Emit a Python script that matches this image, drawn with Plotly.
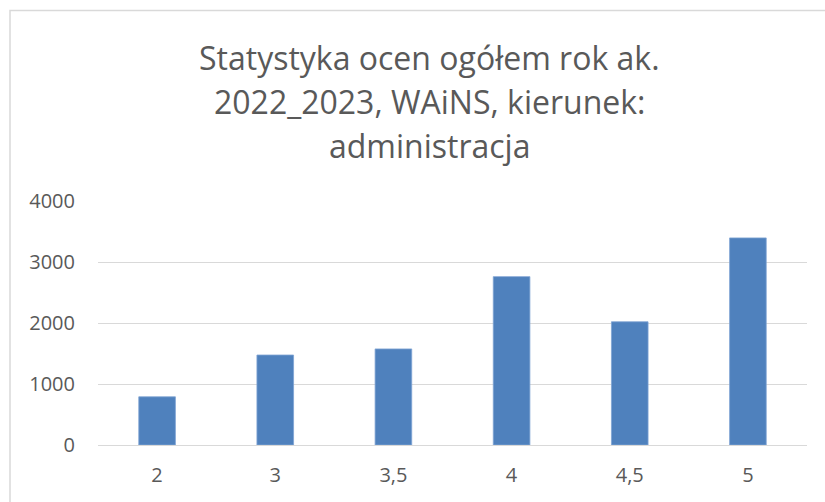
import plotly.graph_objects as go

categories = ["2", "3", "3,5", "4", "4,5", "5"]
values = [790, 1475, 1575, 2760, 2020, 3395]
y_ticks = [0, 1000, 2000, 3000, 4000]
title_lines = ["Statystyka ocen ogółem rok ak.", "2022_2023, WAiNS, kierunek:", "administracja"]

W, H = 825, 502
L, R, T, B = 98, 18, 201, 57
pw, ph = W - L - R, H - T - B

def px_x(p):
    return (p - L) / pw

def px_y(p):
    return (H - B - p) / ph

fig = go.Figure()
fig.add_trace(go.Bar(
    x=categories, y=values, width=0.31,
    marker=dict(color="#4f81bd", line=dict(color="#7fa3d3", width=0.8)),
))

font_fam = "Open Sans"
title_y_px = [57, 102, 145]
for txt, yp in zip(title_lines, title_y_px):
    fig.add_annotation(text=txt, xref="paper", yref="paper", x=px_x(429), y=px_y(yp),
                       xanchor="center", yanchor="middle", showarrow=False,
                       font=dict(family=font_fam, size=32, color="#595959"))

fig.add_shape(type="rect", xref="paper", yref="paper",
              x0=px_x(10), x1=px_x(840), y0=px_y(520), y1=px_y(10.5),
              line=dict(color="#d9d9d9", width=1.5), layer="below")

fig.update_layout(
    width=W, height=H,
    margin=dict(l=L, r=R, t=T, b=B, pad=0),
    paper_bgcolor="white", plot_bgcolor="white",
    showlegend=False,
    font=dict(family=font_fam, size=20, color="#595959"),
)
fig.update_xaxes(showgrid=False, showline=False, ticks="", ticklabelstandoff=16,
                 tickfont=dict(size=20, color="#595959"))
fig.update_yaxes(range=[0, 4000], tickvals=y_ticks, showgrid=True, gridcolor="#d9d9d9",
                 gridwidth=1, zeroline=True, zerolinecolor="#d9d9d9", zerolinewidth=1,
                 showline=False, ticks="", ticklabelstandoff=22,
                 tickfont=dict(size=20, color="#595959"))

fig.write_html("out.html", config={"displayModeBar": False},
               post_script="document.body.style.margin='0';")
